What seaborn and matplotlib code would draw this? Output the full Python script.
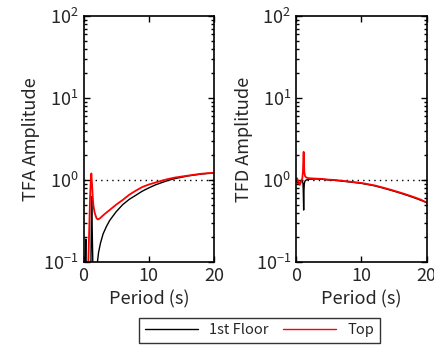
import matplotlib
matplotlib.use("Agg")
import matplotlib.pyplot as plt
import seaborn as sns
import pandas as pd
from matplotlib.ticker import LogLocator, NullFormatter, FixedLocator

# ---- data ----
fa_floor_period = [0.05, 0.2, 0.3, 0.35, 0.4, 0.5, 0.8, 1.1, 1.2, 1.25, 1.35, 1.5, 1.8, 2.0, 2.3, 2.6,
                   3.0, 3.5, 4, 5, 6, 7, 8, 9, 10, 11, 12, 13, 14, 15, 16, 17, 18, 19, 20]
fa_floor_amp = [0.02, 0.05, 0.12, 0.19, 0.08, 0.03, 0.02, 0.05, 0.3, 0.63, 0.2, 0.05, 0.03, 0.08, 0.13, 0.17,
                0.22, 0.27, 0.32, 0.41, 0.5, 0.58, 0.65, 0.73, 0.8, 0.87, 0.93, 0.99, 1.04, 1.08, 1.12, 1.15,
                1.18, 1.2, 1.21]
fa_top_period = [0.05, 0.3, 0.5, 0.7, 0.8, 0.9, 1.0, 1.1, 1.2, 1.3, 1.4, 1.5, 1.7, 2.0, 2.2, 2.5,
                 3, 3.5, 4, 5, 6, 7, 8, 9, 10, 11, 12, 13, 14, 15, 16, 17, 18, 19, 20]
fa_top_amp = [0.02, 0.03, 0.05, 0.08, 0.15, 0.3, 0.6, 0.95, 1.2, 0.9, 0.65, 0.5, 0.4, 0.34, 0.33, 0.34,
              0.37, 0.4, 0.43, 0.5, 0.57, 0.66, 0.74, 0.82, 0.88, 0.93, 0.98, 1.03, 1.07, 1.1, 1.13, 1.16,
              1.19, 1.21, 1.22]

fd_period = [0.05, 0.2, 0.4, 0.6, 0.8, 1.0, 1.1, 1.15, 1.2, 1.25, 1.3, 1.4, 1.6, 2, 3, 4, 5, 6, 7, 8,
             9, 10, 11, 12, 13, 14, 15, 16, 17, 18, 19, 20]
fd_floor_amp = [1.0, 0.95, 0.9, 0.93, 0.97, 0.98, 0.9, 0.7, 0.43, 0.75, 0.9, 0.97, 1.0, 1.02, 1.03, 1.02,
                1.0, 0.99, 0.97, 0.95, 0.93, 0.91, 0.88, 0.85, 0.81, 0.77, 0.73, 0.69, 0.65, 0.61, 0.57, 0.53]
fd_top_amp = [1.0, 1.05, 0.95, 0.87, 0.95, 1.05, 1.3, 1.8, 2.2, 1.6, 1.25, 1.12, 1.07, 1.05, 1.04, 1.03,
              1.01, 1.0, 0.98, 0.96, 0.94, 0.92, 0.89, 0.86, 0.82, 0.78, 0.74, 0.7, 0.66, 0.62, 0.58, 0.53]

series_names = ["1st Floor", "Top"]
series_colors = ["black", "red"]
xticks = [0, 10, 20]
ref_level = 1.0

sns.set_style("ticks")
plt.rcParams["font.family"] = ["Noto Sans CJK JP", "DejaVu Sans"]
plt.rcParams["mathtext.fontset"] = "dejavusans"

fig = plt.figure(figsize=(4.35, 3.47), dpi=100)
ax1 = fig.add_axes([0.192, 0.245, 0.300, 0.709])
ax2 = fig.add_axes([0.680, 0.245, 0.301, 0.709])

df_fa = pd.concat([
    pd.DataFrame({"Period": fa_floor_period, "Amp": fa_floor_amp, "Series": series_names[0]}),
    pd.DataFrame({"Period": fa_top_period, "Amp": fa_top_amp, "Series": series_names[1]}),
])
df_fd = pd.concat([
    pd.DataFrame({"Period": fd_period, "Amp": fd_floor_amp, "Series": series_names[0]}),
    pd.DataFrame({"Period": fd_period, "Amp": fd_top_amp, "Series": series_names[1]}),
])
palette = dict(zip(series_names, series_colors))

for ax, df, ylab in [(ax1, df_fa, "TFA Amplitude"), (ax2, df_fd, "TFD Amplitude")]:
    sns.lineplot(data=df, x="Period", y="Amp", hue="Series", palette=palette, ax=ax,
                 sort=False, estimator=None, linewidth=1.0, legend=False)
    for line, c in zip(ax.get_lines(), series_colors):
        line.set_linewidth(1.0 if c == "black" else 1.3)
    ax.axhline(ref_level, color="black", ls=(0, (1, 3)), lw=1.0, zorder=0)
    ax.set_yscale("log")
    ax.set_xlim(0, 20)
    ax.set_ylim(0.1, 100)
    ax.xaxis.set_major_locator(FixedLocator(xticks))
    ax.yaxis.set_major_locator(LogLocator(base=10, numticks=10))
    ax.yaxis.set_minor_locator(LogLocator(base=10, subs=range(2, 10), numticks=20))
    ax.yaxis.set_minor_formatter(NullFormatter())
    ax.tick_params(which="both", direction="in", top=True, right=True, labelsize=13, color="black")
    ax.tick_params(which="major", length=4, width=1)
    ax.tick_params(which="minor", length=2, width=1)
    ax.set_xlabel("Period (s)", fontsize=13)
    ax.set_ylabel(ylab, fontsize=13, labelpad=2)
    for s in ax.spines.values():
        s.set_color("black")
        s.set_linewidth(1.2)

handles = [plt.Line2D([], [], color=c, lw=1.0) for c in series_colors]
leg = fig.legend(handles, series_names, loc="center", bbox_to_anchor=(0.597, 0.048), ncol=2,
                 frameon=True, fancybox=False, edgecolor="black", fontsize=10.5,
                 handlelength=3.6, columnspacing=1.0, borderpad=0.4)
leg.get_frame().set_linewidth(1.0)

fig.savefig("out.png", dpi=100)
